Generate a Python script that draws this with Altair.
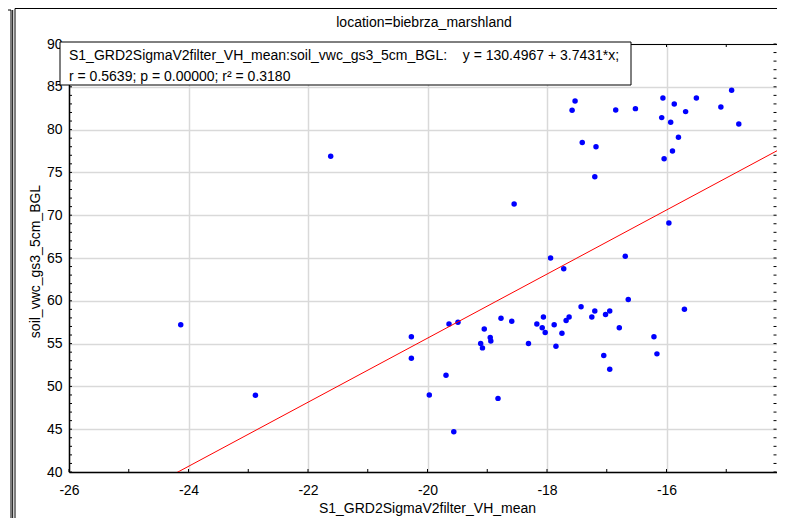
import altair as alt
import pandas as pd

# ---- data ----
x_vals = [-24.13, -22.88, -21.62, -20.27, -20.27, -19.97, -19.69, -19.64, -19.49, -19.56,
          -19.11, -19.08, -19.05, -18.95, -18.94, -18.77, -18.59, -18.82, -18.55, -18.31,
          -18.17, -18.06, -18.08, -18.03, -17.88, -17.85, -17.75, -17.68, -17.63, -17.43,
          -17.25, -17.20, -17.02, -16.95, -17.05, -16.95, -16.79, -16.64, -16.21, -16.16,
          -15.70, -17.94, -16.69, -17.72, -15.96, -17.20, -17.41, -17.18, -15.80, -15.90,
          -16.04, -14.91, -16.06, -15.50, -17.53, -15.87, -15.09, -17.58, -16.85, -16.52,
          -15.68, -16.08, -15.93, -14.79]
y_vals = [57.2, 48.96, 76.9, 55.8, 53.3, 49.0, 51.3, 57.3, 57.5, 44.7,
          55.0, 54.5, 56.7, 55.7, 55.3, 57.95, 57.6, 48.6, 71.3, 55.0,
          57.3, 58.1, 56.85, 56.3, 57.2, 54.7, 56.2, 57.7, 58.1, 59.3,
          58.1, 58.8, 58.4, 58.8, 53.6, 52.0, 56.85, 60.15, 55.8, 53.8,
          59.0, 65.0, 65.2, 63.75, 69.1, 74.5, 78.5, 78.0, 79.1, 77.5,
          76.6, 84.6, 83.7, 83.7, 83.35, 83.0, 82.65, 82.25, 82.3, 82.45,
          82.1, 81.4, 80.85, 80.65]

intercept = 130.4967
slope = 3.7431
line_x = [-26, -14]

x_major = [-26, -24, -22, -20, -18, -16, -14]
y_major = [40, 45, 50, 55, 60, 65, 70, 75, 80, 85, 90]
x_minor = list(range(-26, -13))
y_minor = list(range(40, 91))

title_text = "location=biebrza_marshland"
x_title = "S1_GRD2SigmaV2filter_VH_mean"
y_title = "soil_vwc_gs3_5cm_BGL"
note1 = "S1_GRD2SigmaV2filter_VH_mean:soil_vwc_gs3_5cm_BGL:\u00a0\u00a0\u00a0\u00a0y = 130.4967 + 3.7431*x;"
note2 = "r = 0.5639; p = 0.00000; r\u00b2 = 0.3180"

# ---- chart ----
PX_PER_UNIT = 59.75
W, H = 708, 428
X_MAX = -26 + W / PX_PER_UNIT
FONT = "Liberation Sans"
FS = 14

xscale = alt.Scale(domain=[-26, X_MAX], nice=False, zero=False)
yscale = alt.Scale(domain=[40, 90], nice=False, zero=False)

xaxis = alt.Axis(
    values=x_major, labelExpr="'' + datum.value", title=x_title,
    ticks=False, tickSize=0, labelPadding=11, labelFontSize=FS, labelFont=FONT,
    labelColor="#000000", labelFlush=False, labelOverlap=False, labelBound=False,
    domain=True, domainColor="#000000", domainWidth=1.5,
    grid=True, gridColor="#d9d9d9", gridWidth=1.5,
    titleFont=FONT, titleFontSize=FS, titleFontWeight="normal", titleColor="#000000",
    titleX=358, titleY=36, titleAlign="center", titleBaseline="middle")
yaxis = alt.Axis(
    values=y_major, labelExpr="'' + datum.value", title=y_title,
    ticks=False, tickSize=0, labelPadding=7, labelFontSize=FS, labelFont=FONT,
    labelColor="#000000", labelFlush=False, labelOverlap=False, labelBound=False,
    labelBaseline="middle",
    domain=True, domainColor="#000000", domainWidth=1.5,
    grid=True, gridColor="#d9d9d9", gridWidth=1.5,
    titleFont=FONT, titleFontSize=FS, titleFontWeight="normal", titleColor="#000000",
    titleX=-34, titleY=217, titleAngle=270, titleAlign="center", titleBaseline="middle")

pts_df = pd.DataFrame({"x": x_vals, "y": y_vals})
line_df = pd.DataFrame({"x": line_x})
one = pd.DataFrame({"k": [0]})

points = alt.Chart(pts_df).mark_point(
    filled=True, shape="circle", size=30, color="#0000ff", opacity=1
).encode(
    x=alt.X("x:Q", scale=xscale, axis=xaxis),
    y=alt.Y("y:Q", scale=yscale, axis=yaxis),
)

reg = alt.Chart(line_df).transform_calculate(
    y=f"{intercept} + {slope} * datum.x"
).mark_line(color="#ff0000", strokeWidth=1, clip=True).encode(
    x=alt.X("x:Q", scale=xscale, axis=xaxis),
    y=alt.Y("y:Q", scale=yscale, axis=yaxis),
)

xt = pd.DataFrame({"x": x_minor})
yt = pd.DataFrame({"y": y_minor})
tick_style = dict(color="#000000", strokeWidth=1)
bottom_ticks = alt.Chart(xt).mark_rule(**tick_style).encode(
    x=alt.X("x:Q", scale=xscale, axis=xaxis), y=alt.value(H), y2=alt.value(H - 3))
top_ticks = alt.Chart(xt).mark_rule(**tick_style).encode(
    x=alt.X("x:Q", scale=xscale, axis=xaxis), y=alt.value(0), y2=alt.value(3))
left_ticks = alt.Chart(yt).mark_rule(**tick_style).encode(
    y=alt.Y("y:Q", scale=yscale, axis=yaxis), x=alt.value(0), x2=alt.value(3))
right_ticks = alt.Chart(yt).mark_rule(**tick_style).encode(
    y=alt.Y("y:Q", scale=yscale, axis=yaxis), x=alt.value(W - 0.5), x2=alt.value(W - 3.5))

top_border = alt.Chart(one).mark_rule(color="#000000", strokeWidth=1).encode(
    x=alt.value(0), x2=alt.value(W), y=alt.value(0.5))

box = alt.Chart(one).mark_rect(fill="white", stroke="#000000", strokeWidth=1).encode(
    x=alt.value(-9), x2=alt.value(562), y=alt.value(-2), y2=alt.value(41))
txt1 = alt.Chart(one).mark_text(align="left", baseline="middle", font=FONT,
                                fontSize=FS, color="#000000", text=note1).encode(
    x=alt.value(0), y=alt.value(12))
txt2 = alt.Chart(one).mark_text(align="left", baseline="middle", font=FONT,
                                fontSize=FS, color="#000000", text=note2).encode(
    x=alt.value(0), y=alt.value(33))
ttl = alt.Chart(one).mark_text(align="center", baseline="middle", font=FONT,
                               fontSize=FS, color="#000000", text=title_text).encode(
    x=alt.value(355), y=alt.value(-21))

frame_style = dict(color="#000000", strokeWidth=1)
f1 = alt.Chart(one).mark_rule(**frame_style).encode(
    x=alt.value(-58), y=alt.value(-34), y2=alt.value(H + 60))
f2 = alt.Chart(one).mark_rule(**frame_style).encode(
    x=alt.value(-56.3), y=alt.value(-34), y2=alt.value(H + 60))
f3 = alt.Chart(one).mark_rule(**frame_style).encode(
    x=alt.value(-54), y=alt.value(-35.5), y2=alt.value(H + 60))
f4 = alt.Chart(one).mark_rule(**frame_style).encode(
    x=alt.value(-54), x2=alt.value(W + 5), y=alt.value(-35.5))
f5 = alt.Chart(one).mark_rule(**frame_style).encode(
    x=alt.value(-62), x2=alt.value(-58), y=alt.value(-34))

chart = alt.layer(
    points, reg, bottom_ticks, top_ticks, left_ticks, right_ticks, top_border,
    box, txt1, txt2, ttl, f1, f2, f3, f4, f5
).properties(
    width=W, height=H,
    autosize=alt.AutoSizeParams(type="none"),
    padding={"left": 61, "top": 36, "right": 0, "bottom": 46},
    background="white",
).configure_view(stroke=None)

chart.save("out.html", embed_options={"renderer": "svg", "actions": False})
